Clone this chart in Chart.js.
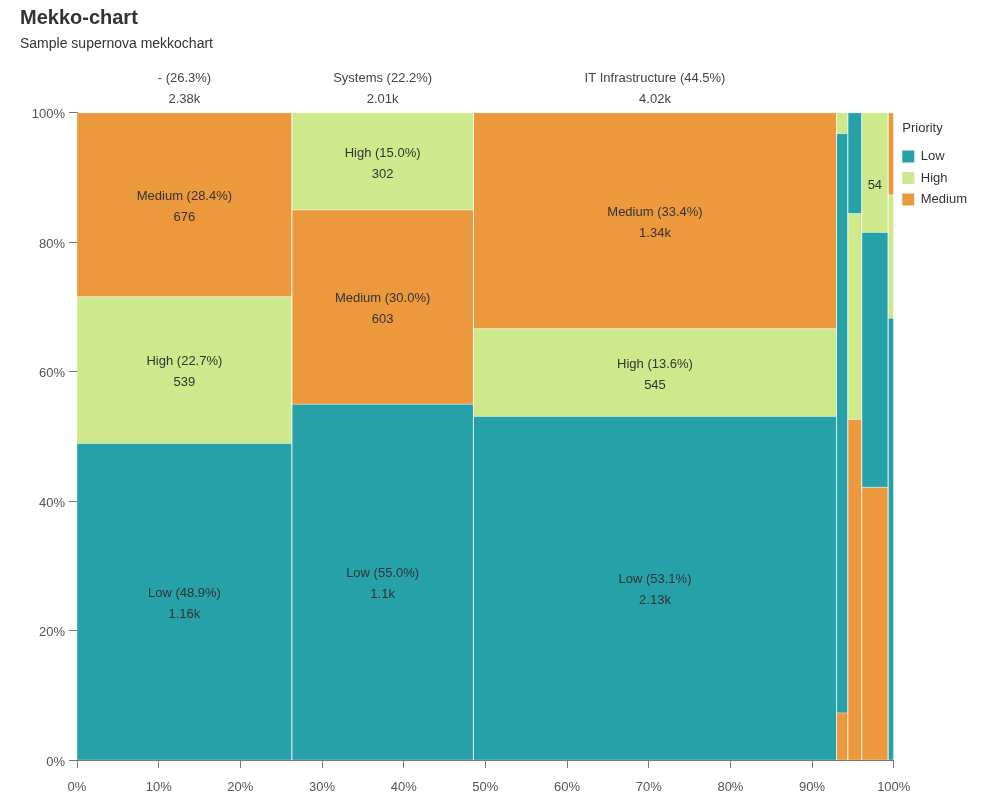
<!DOCTYPE html>
<html>
<head>
<meta charset="utf-8">
<title>Mekko-chart</title>
<script src="https://cdn.jsdelivr.net/npm/chart.js@4.4.1/dist/chart.umd.min.js"></script>
<style>
	html, body { margin: 0; padding: 0; background: #fff; }
	#mekko-chart { display: block; }
</style>
</head>
<body>
<canvas id="mekko-chart" width="999" height="807"></canvas>
<script>
// columns (categories)
var categories = ['-', 'Systems', 'IT Infrastructure', 'Applications', 'Network', 'Security', 'Database'];
// priority values per column
var lowValues = [1162, 1104, 2132, 111, 24, 115, 43];
var highValues = [539, 302, 545, 4, 49, 54, 12];
var mediumValues = [676, 603, 1341, 9, 81, 123, 8];
// stack order in each column, bottom -> top
var stackOrder = [
	['Low', 'High', 'Medium'],
	['Low', 'Medium', 'High'],
	['Low', 'High', 'Medium'],
	['Medium', 'Low', 'High'],
	['Medium', 'High', 'Low'],
	['Medium', 'Low', 'High'],
	['Low', 'High', 'Medium']
];
// legend order
var priorities = ['Low', 'High', 'Medium'];
// axis ticks
var xTicks = [0, 0.1, 0.2, 0.3, 0.4, 0.5, 0.6, 0.7, 0.8, 0.9, 1];
var yTicks = [0, 0.2, 0.4, 0.6, 0.8, 1];

var COLORS = { Low: '#26a1a8', High: '#cde98b', Medium: '#ec993e' };
var FONT = "'Helvetica Neue', Helvetica, Arial, 'Liberation Sans', sans-serif";
var LEGEND_TITLE_TOP = 122;

var MekkoChart;
var rects = [];
var columns = [];

window.onload = function() {
	initView();
};

/**
 * init view
 */
function initView() {
	buildRects();
	createChart();
}

function valuesOf(p) {
	if (p === 'Low') return lowValues;
	if (p === 'High') return highValues;
	return mediumValues;
}

function formatValue(v) {
	if (v >= 1000) return Number((v / 1000).toPrecision(3)) + 'k';
	return String(v);
}

/**
 * build the rectangles (value space) of every segment
 */
function buildRects() {
	var totalAll = 0;
	categories.forEach(function(c, i) {
		totalAll += lowValues[i] + highValues[i] + mediumValues[i];
	});
	var cum = 0;
	categories.forEach(function(cat, i) {
		var colTotal = lowValues[i] + highValues[i] + mediumValues[i];
		var x0 = cum / totalAll;
		var x1 = (cum + colTotal) / totalAll;
		columns.push({
			name : cat,
			center : (x0 + x1) / 2,
			width : x1 - x0,
			total : colTotal,
			pct : (colTotal / totalAll * 100).toFixed(1) + '%'
		});
		var acc = 0;
		stackOrder[i].forEach(function(p) {
			var v = valuesOf(p)[i];
			rects.push({
				priority : p,
				value : v,
				pct : (v / colTotal * 100).toFixed(1) + '%',
				x0 : x0,
				x1 : x1,
				y0 : acc / colTotal,
				y1 : (acc + v) / colTotal
			});
			acc += v;
		});
		cum += colTotal;
	});
}

// segment labels inside rectangles
var segmentLabelPlugin = {
	id : 'segmentLabels',
	afterDatasetsDraw : function(chart) {
		var ctx = chart.ctx;
		var xs = chart.scales.x;
		var ys = chart.scales.y;
		ctx.save();
		ctx.font = '13px ' + FONT;
		ctx.fillStyle = '#333';
		ctx.textAlign = 'center';
		ctx.textBaseline = 'middle';
		rects.forEach(function(r) {
			var left = xs.getPixelForValue(r.x0);
			var right = xs.getPixelForValue(r.x1);
			var top = ys.getPixelForValue(r.y1);
			var bottom = ys.getPixelForValue(r.y0);
			var w = right - left;
			var h = bottom - top;
			var cx = (left + right) / 2;
			var cy = (top + bottom) / 2;
			var name = r.priority + ' (' + r.pct + ')';
			var val = formatValue(r.value);
			if (ctx.measureText(name).width + 8 <= w && h >= 44) {
				ctx.fillText(name, cx, cy - 8.5);
				ctx.fillText(val, cx, cy + 12.5);
			} else if (ctx.measureText(val).width + 8 <= w && h >= 24) {
				ctx.fillText(val, cx, cy + 12.5);
			}
		});
		// legend title, aligned with legend boxes
		var lg = chart.legend;
		if (lg && lg.legendHitBoxes && lg.legendHitBoxes.length) {
			ctx.textAlign = 'left';
			ctx.fillText('Priority', lg.legendHitBoxes[0].left, lg.top + LEGEND_TITLE_TOP + 6.5);
		}
		ctx.restore();
	}
};

/**
 * create chart
 */
function createChart() {
	Chart.defaults.font.family = FONT;
	Chart.defaults.font.size = 13;
	Chart.defaults.color = '#555';

	var datasets = rects.map(function(r) {
		return {
			type : 'line',
			label : r.priority,
			data : [
				{ x : r.x0, y : r.y0 },
				{ x : r.x0, y : r.y1 },
				{ x : r.x1, y : r.y1 },
				{ x : r.x1, y : r.y0 },
				{ x : r.x0, y : r.y0 }
			],
			fill : 'shape',
			backgroundColor : COLORS[r.priority],
			borderColor : 'rgba(255, 255, 255, 0.35)',
			borderWidth : 1,
			pointRadius : 0,
			pointHoverRadius : 0,
			tension : 0
		};
	});

	MekkoChart = new Chart(document.getElementById('mekko-chart'), {
		type : 'line',
		data : { datasets : datasets },
		plugins : [ segmentLabelPlugin ],
		options : {
			responsive : false,
			animation : false,
			layout : {
				padding : { left : 20, right : 22, top : 0, bottom : 7 }
			},
			scales : {
				x : {
					type : 'linear',
					min : 0,
					max : 1,
					afterBuildTicks : function(axis) {
						axis.ticks = xTicks.map(function(v) { return { value : v }; });
					},
					ticks : {
						autoSkip : false,
						maxRotation : 0,
						padding : 12,
						color : '#555',
						callback : function(v) { return Math.round(v * 100) + '%'; }
					},
					grid : { drawOnChartArea : false, drawTicks : true, tickLength : 8, color : '#777' },
					border : { display : true, color : '#777' },
					afterFit : function(s) { s.height = 40; }
				},
				x2 : {
					type : 'linear',
					position : 'top',
					min : 0,
					max : 1,
					afterBuildTicks : function(axis) {
						axis.ticks = columns.map(function(c) { return { value : c.center }; });
					},
					ticks : {
						autoSkip : false,
						maxRotation : 0,
						padding : -5,
						color : '#444',
						font : { size : 13, lineHeight : 1.6 },
						callback : function(v, i) {
							var c = columns[i];
							if (!c || c.width < 0.1) return '';
							return [c.name + ' (' + c.pct + ')', formatValue(c.total)];
						}
					},
					grid : { display : false },
					border : { display : false },
					afterFit : function(s) { s.height = 60; }
				},
				y : {
					type : 'linear',
					min : 0,
					max : 1,
					afterBuildTicks : function(axis) {
						axis.ticks = yTicks.map(function(v) { return { value : v }; });
					},
					ticks : {
						padding : 4,
						labelOffset : 2,
						color : '#555',
						callback : function(v) { return Math.round(v * 100) + '%'; }
					},
					grid : { drawOnChartArea : false, drawTicks : true, tickLength : 8, color : '#777' },
					border : { display : true, color : '#777' },
					afterFit : function(s) { s.width = 57; }
				}
			},
			plugins : {
				title : {
					display : true,
					text : 'Mekko-chart',
					align : 'start',
					color : '#333',
					font : { size : 20, weight : 'bold' },
					padding : { top : 6, bottom : 4 }
				},
				subtitle : {
					display : true,
					text : 'Sample supernova mekkochart',
					align : 'start',
					color : '#333',
					font : { size : 14 },
					padding : { top : 2, bottom : 0 }
				},
				legend : {
					position : 'right',
					align : 'start',
					onClick : function() {},
					title : {
						display : true,
						text : 'Priority',
						color : 'rgba(0, 0, 0, 0)',
						font : { size : 13 },
						position : 'start',
						padding : { top : LEGEND_TITLE_TOP, bottom : 4 }
					},
					labels : {
						boxWidth : 12,
						boxHeight : 12,
						padding : 8.5,
						color : '#333',
						font : { size : 13 },
						generateLabels : function() {
							return priorities.map(function(p) {
								return {
									text : p,
									fillStyle : COLORS[p],
									strokeStyle : COLORS[p],
									lineWidth : 0,
									hidden : false,
									fontColor : '#333'
								};
							});
						}
					}
				},
				tooltip : { enabled : false }
			}
		}
	});
}
</script>
</body>
</html>
